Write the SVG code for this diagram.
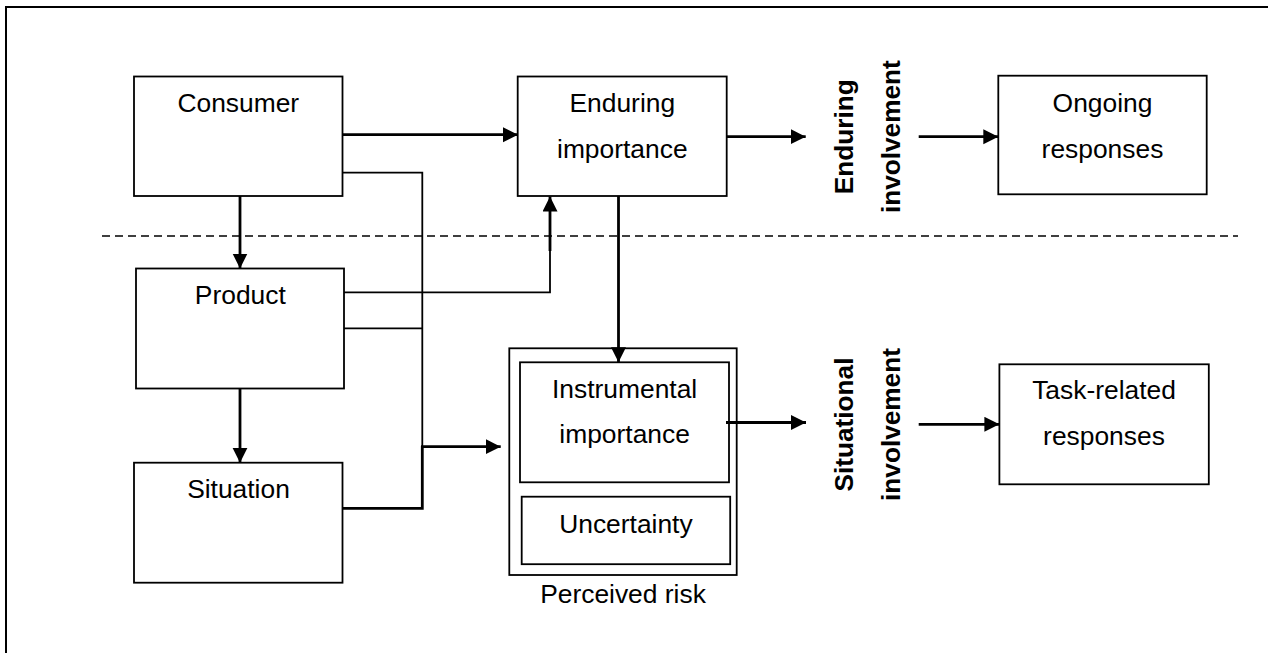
<svg xmlns="http://www.w3.org/2000/svg" width="1268" height="653" viewBox="0 0 1268 653">
  <style>
    .box { fill: #fff; stroke: #000; stroke-width: 1.8; }
    .lbl { font-family: "Liberation Sans", Arial, sans-serif; font-size: 26.4px; fill: #000; text-anchor: middle; }
    .vlbl { font-family: "Liberation Sans", Arial, sans-serif; font-size: 26.2px; font-weight: bold; fill: #000; text-anchor: middle; }
    .thin { fill: none; stroke: #000; stroke-width: 1.8; }
    .thick { fill: none; stroke: #000; stroke-width: 2.8; }
    .dash { fill: none; stroke: #000; stroke-width: 1.6; stroke-dasharray: 8 5; }
  </style>
  <defs>
    <marker id="arrow" markerUnits="userSpaceOnUse" markerWidth="16" markerHeight="16" refX="15" refY="7.5" orient="auto">
      <path d="M0,0 L15,7.5 L0,15 z" fill="#000"/>
    </marker>
  </defs>

  <rect width="1268" height="653" fill="#fff"/>
  <!-- frame -->
  <rect x="6" y="7" width="1300" height="700" fill="none" stroke="#000" stroke-width="2"/>

  <!-- divider between enduring and situational levels -->
  <line class="dash" x1="102" y1="236" x2="1238" y2="236"/>

  <g id="consumer">
    <rect class="box" x="134" y="76.5" width="208.5" height="119.5"/>
    <text class="lbl" x="238.3" y="112.3">Consumer</text>
  </g>
  <g id="product">
    <rect class="box" x="136" y="268.5" width="208" height="120"/>
    <text class="lbl" x="240.3" y="304">Product</text>
  </g>
  <g id="situation">
    <rect class="box" x="134" y="462.7" width="208.5" height="120"/>
    <text class="lbl" x="238.5" y="498.3">Situation</text>
  </g>
  <g id="enduring-importance">
    <rect class="box" x="517.7" y="76.5" width="209" height="119.5"/>
    <text class="lbl" x="622.3" y="112.3">Enduring</text>
    <text class="lbl" x="622.3" y="157.7">importance</text>
  </g>
  <g id="perceived-risk">
    <rect class="box" x="509.3" y="348.3" width="227.4" height="226.7"/>
    <text class="lbl" x="623" y="602.7">Perceived risk</text>
  </g>
  <g id="instrumental-importance">
    <rect class="box" x="520" y="362.3" width="209" height="120"/>
    <text class="lbl" x="624.6" y="397.7">Instrumental</text>
    <text class="lbl" x="624.6" y="443.3">importance</text>
  </g>
  <g id="uncertainty">
    <rect class="box" x="521.7" y="496.7" width="208.5" height="67.5"/>
    <text class="lbl" x="625.9" y="532.7">Uncertainty</text>
  </g>
  <g id="enduring-involvement">
    <text class="vlbl" transform="translate(853.3,136.7) rotate(-90)">Enduring</text>
    <text class="vlbl" transform="translate(900,136.7) rotate(-90)">involvement</text>
  </g>
  <g id="situational-involvement">
    <text class="vlbl" transform="translate(853.3,424.5) rotate(-90)">Situational</text>
    <text class="vlbl" transform="translate(899.6,424.5) rotate(-90)">involvement</text>
  </g>
  <g id="ongoing-responses">
    <rect class="box" x="998.3" y="75.7" width="208.4" height="118.6"/>
    <text class="lbl" x="1102.5" y="112.3">Ongoing</text>
    <text class="lbl" x="1102.5" y="157.7">responses</text>
  </g>
  <g id="task-related-responses">
    <rect class="box" x="999.4" y="364.3" width="209.4" height="120"/>
    <text class="lbl" x="1104" y="399.3">Task-related</text>
    <text class="lbl" x="1104" y="445">responses</text>
  </g>

  <!-- connectors, drawn over the boxes -->
  <g id="connectors">
    <line class="thick" x1="342" y1="134.7" x2="518" y2="134.7" marker-end="url(#arrow)"/>
    <line class="thick" x1="240" y1="196" x2="240" y2="268.5" marker-end="url(#arrow)"/>
    <line class="thick" x1="240" y1="388.3" x2="240" y2="462.7" marker-end="url(#arrow)"/>
    <polyline class="thin" points="342,172.7 422.3,172.7 422.3,447"/>
    <line class="thin" x1="344" y1="328.3" x2="422.3" y2="328.3"/>
    <polyline class="thin" points="344,292.3 550,292.3 550,250"/>
    <line class="thick" x1="550" y1="251" x2="550" y2="196.5" marker-end="url(#arrow)"/>
    <polyline class="thick" points="342.5,508.3 422.3,508.3 422.3,446"/>
    <line class="thick" x1="421" y1="446.7" x2="500.7" y2="446.7" marker-end="url(#arrow)"/>
    <line class="thick" x1="618.5" y1="196" x2="618.5" y2="362.3" marker-end="url(#arrow)"/>
    <line class="thick" x1="727" y1="136.7" x2="805.7" y2="136.7" marker-end="url(#arrow)"/>
    <line class="thick" x1="918.7" y1="136.7" x2="998.3" y2="136.7" marker-end="url(#arrow)"/>
    <line class="thick" x1="726" y1="422.5" x2="806" y2="422.5" marker-end="url(#arrow)"/>
    <line class="thick" x1="918.7" y1="424.3" x2="999.4" y2="424.3" marker-end="url(#arrow)"/>
  </g>
</svg>
